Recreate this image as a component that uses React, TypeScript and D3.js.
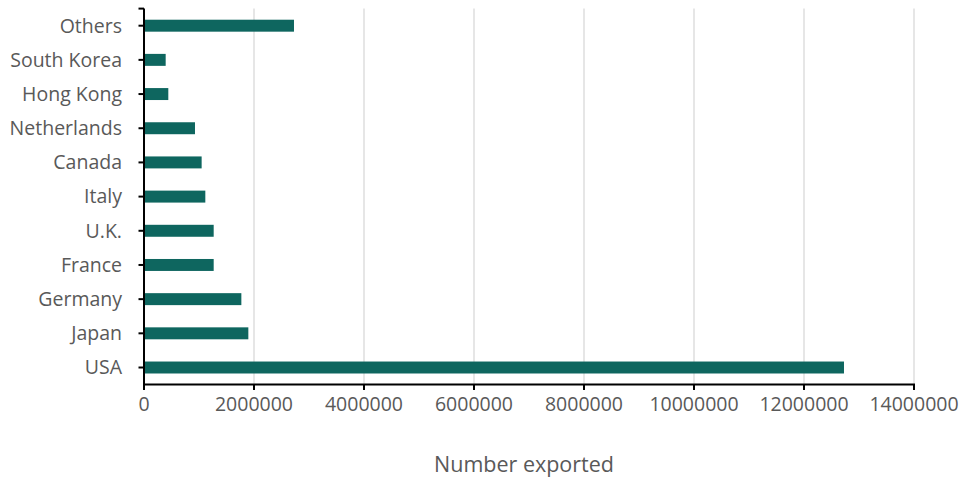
import React from "react";
import * as d3 from "d3";

const countries = ["Others", "South Korea", "Hong Kong", "Netherlands", "Canada", "Italy", "U.K.", "France", "Germany", "Japan", "USA"];
const exported = [2727000, 394000, 442000, 927000, 1048000, 1115000, 1267000, 1267000, 1770000, 1897000, 12727000];
const xTicks = [0, 2000000, 4000000, 6000000, 8000000, 10000000, 12000000, 14000000];
const xTitle = "Number exported";

const W = 964;
const H = 478;
const left = 144;
const right = 914;
const top = 8.6;
const bottom = 384.6;
const font = "'Open Sans', 'Liberation Sans', sans-serif";
const textColor = "#595959";
const barColor = "#0e665f";

export default function App() {
  const x = d3.scaleLinear().domain([0, 14000000]).range([left, right]);
  const y = d3.scaleBand<string>().domain(countries).range([top, bottom]).paddingInner(0.65).paddingOuter(0.325);

  return (
    <div style={{ position: "fixed", left: 0, top: 0 }}>
      <svg width={W} height={H} style={{ display: "block", background: "#fff" }}>
        {xTicks.slice(1).map((t) => (
          <line key={"g" + t} x1={x(t)} x2={x(t)} y1={top} y2={bottom} stroke="#d9d9d9" strokeWidth={1.3} />
        ))}
        {countries.map((c, i) => (
          <rect key={c} x={x(0)} y={y(c)!} width={x(exported[i]) - x(0)} height={y.bandwidth()} fill={barColor} />
        ))}
        {/* y axis */}
        <line x1={left} x2={left} y1={top} y2={bottom + 5.5} stroke="#000" strokeWidth={2} />
        <line x1={left - 5.5} x2={left} y1={top} y2={top} stroke="#000" strokeWidth={2} />
        {countries.map((c) => {
          const cy = y(c)! + y.bandwidth() / 2;
          return (
            <g key={"yt" + c}>
              <line x1={left - 5.5} x2={left} y1={cy} y2={cy} stroke="#000" strokeWidth={2} />
              <text x={122} y={cy} dy="0.35em" textAnchor="end" fontFamily={font} fontSize={19.5} fill={textColor}>
                {c}
              </text>
            </g>
          );
        })}
        {/* x axis */}
        <line x1={left - 1} x2={right + 1} y1={bottom} y2={bottom} stroke="#000" strokeWidth={2} />
        {xTicks.map((t) => (
          <g key={"xt" + t}>
            <line x1={x(t)} x2={x(t)} y1={bottom} y2={bottom + 5.5} stroke="#000" strokeWidth={2} />
            <text x={x(t)} y={411} textAnchor="middle" fontFamily={font} fontSize={19.5} fill={textColor}>
              {t}
            </text>
          </g>
        ))}
        <text x={524} y={472} textAnchor="middle" fontFamily={font} fontSize={21.5} fill={textColor}>
          {xTitle}
        </text>
      </svg>
    </div>
  );
}
